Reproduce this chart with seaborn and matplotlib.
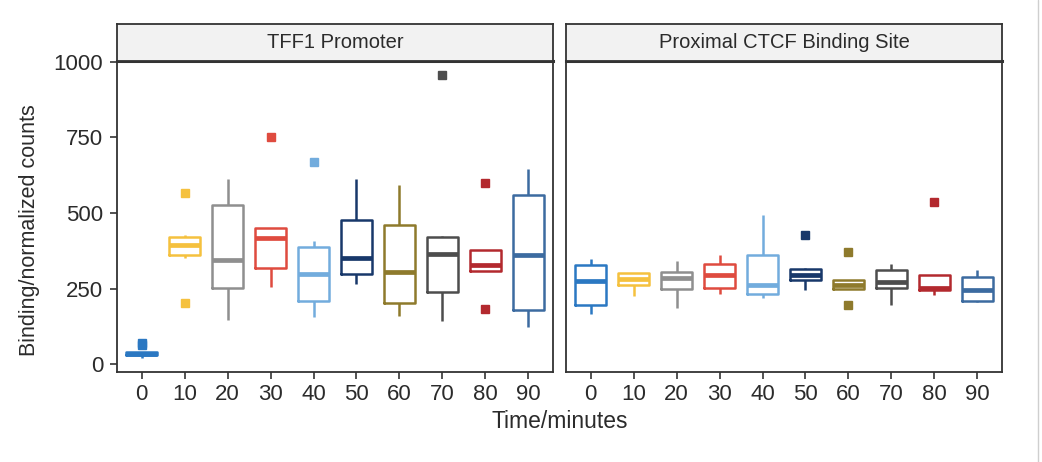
import matplotlib
matplotlib.use("Agg")
import matplotlib.pyplot as plt
import seaborn as sns
import pandas as pd
from matplotlib.lines import Line2D

# time points (minutes)
times = ["0", "10", "20", "30", "40", "50", "60", "70", "80", "90"]

# observations per time point, TFF1 promoter
tff1_values = [
    [22, 27, 30, 33, 35, 38, 42, 64, 72],
    [203, 351, 360, 380, 395, 410, 420, 426, 565],
    [148, 200, 252, 300, 346, 450, 528, 570, 612],
    [255, 290, 320, 400, 419, 440, 450, 450, 750],
    [156, 180, 209, 260, 297, 350, 389, 406, 668],
    [267, 285, 300, 330, 351, 420, 478, 550, 612],
    [160, 180, 203, 260, 306, 400, 461, 530, 591],
    [143, 200, 240, 300, 365, 400, 421, 424, 957],
    [183, 310, 310, 320, 329, 360, 379, 379, 599],
    [123, 150, 181, 280, 360, 480, 559, 600, 644],
]

# observations per time point, proximal CTCF binding site
ctcf_values = [
    [167, 180, 195, 240, 276, 300, 327, 340, 349],
    [227, 250, 263, 275, 283, 292, 301, 301, 301],
    [187, 220, 250, 270, 286, 295, 305, 320, 341],
    [233, 245, 253, 280, 295, 310, 330, 345, 361],
    [220, 228, 233, 250, 263, 300, 363, 420, 495],
    [246, 265, 279, 288, 294, 305, 316, 320, 428],
    [196, 248, 248, 255, 263, 270, 279, 279, 371],
    [197, 230, 253, 262, 272, 290, 313, 320, 332],
    [228, 240, 247, 250, 254, 270, 295, 295, 538],
    [206, 209, 211, 230, 247, 270, 290, 300, 312],
]

panel_titles = ["TFF1 Promoter", "Proximal CTCF Binding Site"]
y_ticks = [0, 250, 500, 750, 1000]

time_colors = ["#2b78c2", "#f5c13e", "#8f8f8f", "#df4b3f", "#72acdd",
               "#18386a", "#8e7a2c", "#4d4d4d", "#b3292e", "#3c6ba0"]

# long format table
rows = []
for site, values in zip(panel_titles, [tff1_values, ctcf_values]):
    for t, obs in zip(times, values):
        for v in obs:
            rows.append({"site": site, "time": t, "value": v})
df = pd.DataFrame(rows)

sns.set_theme(style="white")
plt.rcParams["font.family"] = ["Liberation Sans", "DejaVu Sans"]
text_col = "#2b2b2b"
edge_col = "#333333"

W, H = 1042, 462
fig = plt.figure(figsize=(W / 100, H / 100), dpi=100)

panel_top, panel_bot = 61, 372
strip_top = 24
lefts = [(117, 553), (566, 1002)]
palette = dict(zip(times, time_colors))

for i, (site, (x0, x1)) in enumerate(zip(panel_titles, lefts)):
    ax = fig.add_axes([x0 / W, 1 - panel_bot / H, (x1 - x0) / W, (panel_bot - panel_top) / H])
    sns.boxplot(data=df[df["site"] == site], x="time", y="value", hue="time",
                order=times, hue_order=times, palette=palette, fill=False,
                dodge=False, legend=False, width=0.72, linewidth=1.8,
                showcaps=False, flierprops=dict(marker="s", markersize=5.5),
                medianprops=dict(linewidth=3.4), ax=ax)
    for ln in ax.lines:
        if ln.get_marker() == "s":
            ln.set_markerfacecolor(ln.get_markeredgecolor())
    ax.set_ylim(-25, 1002)
    ax.set_xlim(-0.57, 9.57)
    ax.set_xlabel("")
    ax.set_ylabel("")
    for sp in ax.spines.values():
        sp.set_visible(True)
        sp.set_color(edge_col)
        sp.set_linewidth(1.3)
    ax.spines["top"].set_linewidth(2.2)
    ax.tick_params(axis="x", length=5, width=1.2, color=edge_col, labelsize=16,
                   labelcolor=text_col, pad=4, bottom=True)
    ax.set_yticks(y_ticks)
    if i == 0:
        ax.tick_params(axis="y", length=5, width=1.2, color=edge_col, labelsize=16,
                       labelcolor=text_col, pad=5, left=True)
    else:
        ax.tick_params(axis="y", left=False, labelleft=False)

    # facet strip
    sax = fig.add_axes([x0 / W, 1 - panel_top / H, (x1 - x0) / W, (panel_top - strip_top) / H])
    sax.set_facecolor("#f2f2f2")
    sax.set_xticks([])
    sax.set_yticks([])
    for sp in sax.spines.values():
        sp.set_color(edge_col)
        sp.set_linewidth(1.3)
    sax.text(0.5, 0.5, site, ha="center", va="center", fontsize=14.5,
             color=text_col, transform=sax.transAxes)

fig.text(560 / W, 1 - 422 / H, "Time/minutes", ha="center", va="center",
         fontsize=16.5, color=text_col)
fig.text(30 / W, 1 - 230 / H, "Binding/normalized counts", ha="center", va="center",
         rotation=90, fontsize=15.5, color=text_col)

# page edge line at the right
fig.add_artist(Line2D([1038 / W, 1038 / W], [0, 1], color="#cfcfcf", linewidth=1,
                      transform=fig.transFigure))

fig.savefig("out.png", dpi=100)
